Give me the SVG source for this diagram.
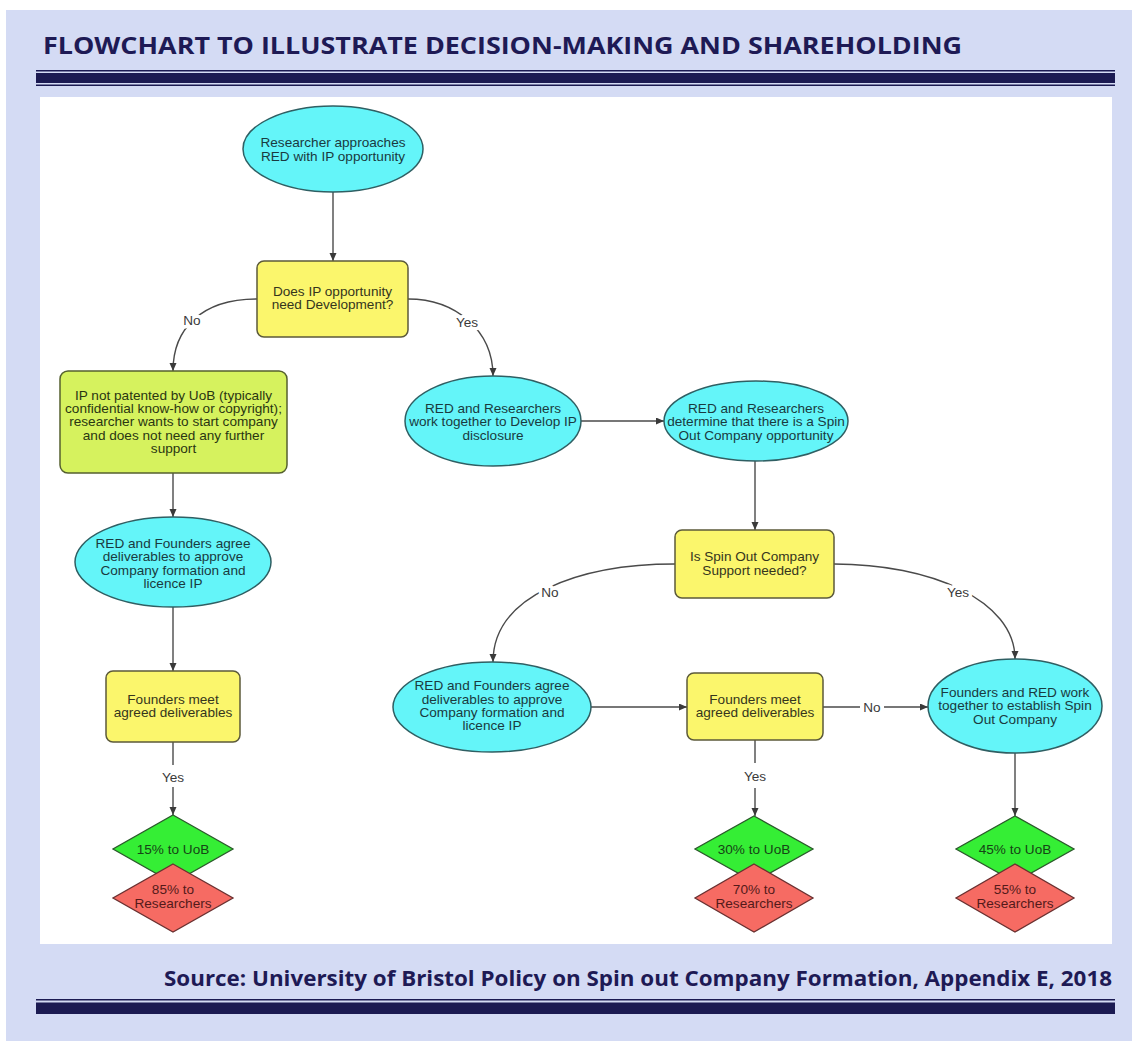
<svg xmlns="http://www.w3.org/2000/svg" width="1132" height="1041" viewBox="0 0 1132 1041">
<style>
.head{font-family:"Open Sans","DejaVu Sans",sans-serif;font-weight:bold;fill:#1e1a55}
.t{font-family:"Liberation Sans",Arial,Helvetica,sans-serif;font-size:13.6px;text-anchor:middle}
.lbl{font-family:"Liberation Sans",Arial,Helvetica,sans-serif;font-size:13.6px;text-anchor:middle;fill:#3a3a3a;stroke:#fff;stroke-width:7px;paint-order:stroke;stroke-linejoin:round}
.cyan{fill:#64f5f9;stroke:#2f5f63;stroke-width:1.5}
.yel{fill:#fbf66c;stroke:#5c5a3a;stroke-width:1.5}
.lime{fill:#d6f25e;stroke:#55602f;stroke-width:1.5}
.grn{fill:#35ee35;stroke:#2a5a2a;stroke-width:1.3}
.red{fill:#f66b63;stroke:#6a3030;stroke-width:1.3}
.tc{fill:#1a3a40}
.ty{fill:#35351c}
.tl{fill:#2a3612}
.tg{fill:#164416}
.tr{fill:#541a1a}
.conn path{fill:none;stroke:#4a4a4a;stroke-width:1.4}
.conn path.a{marker-end:url(#arr)}
</style>
<defs>
<marker id="arr" markerUnits="userSpaceOnUse" markerWidth="9" markerHeight="8" refX="8" refY="3.5" orient="auto">
<path d="M0,0 L8,3.5 L0,7 z" fill="#3a3a3a"/>
</marker>
</defs>
<rect x="0" y="0" width="1132" height="1041" fill="#ffffff"/>
<rect x="6" y="10" width="1126" height="1031" fill="#d4dbf4"/>
<text class="head" x="43" y="54" font-size="23" textLength="919" lengthAdjust="spacingAndGlyphs">FLOWCHART TO ILLUSTRATE DECISION-MAKING AND SHAREHOLDING</text>
<rect x="36" y="70" width="1079" height="1.5" fill="#1b1a52"/>
<rect x="36" y="73" width="1079" height="10" fill="#1b1a52"/>
<rect x="36" y="84.5" width="1079" height="1.5" fill="#1b1a52"/>
<rect x="40" y="97" width="1072" height="847" fill="#ffffff"/>
<text class="head" x="1112" y="986" font-size="22" text-anchor="end" textLength="948" lengthAdjust="spacingAndGlyphs">Source: University of Bristol Policy on Spin out Company Formation, Appendix E, 2018</text>
<rect x="36" y="999" width="1079" height="1.5" fill="#1b1a52"/>
<rect x="36" y="1002.5" width="1079" height="11.5" fill="#1b1a52"/>

<g class="conn" id="connectors">
<path class="a" d="M333,192 L333,261"/>
<path class="a" d="M257,299 C200,299 173,330 173,371"/>
<path class="a" d="M408,299 C455,299 493,330 493,376"/>
<path class="a" d="M173,473 L173,517"/>
<path class="a" d="M173,607 L173,671"/>
<path d="M173,742 L173,765"/>
<path class="a" d="M173,787 L173,815"/>
<path class="a" d="M581,421 L664,421"/>
<path class="a" d="M755,461 L755,530"/>
<path class="a" d="M675,564 C580,564 493,595 493,662"/>
<path class="a" d="M834,564 C930,564 1015,600 1015,659"/>
<path class="a" d="M591,707 L687,707"/>
<path d="M823,707 L860,707"/>
<path class="a" d="M884,707 L928,707"/>
<path d="M755,740 L755,763"/>
<path class="a" d="M755,788 L755,816"/>
<path class="a" d="M1015,753 L1015,816"/>
<text class="lbl" x="192" y="325">No</text>
<text class="lbl" x="467" y="327">Yes</text>
<text class="lbl" x="173" y="781.5">Yes</text>
<text class="lbl" x="550" y="597">No</text>
<text class="lbl" x="958" y="597">Yes</text>
<text class="lbl" x="872" y="711.5">No</text>
<text class="lbl" x="755" y="780.5">Yes</text>
</g>

<g id="n1">
<ellipse class="cyan" cx="333" cy="149" rx="90" ry="43"/>
<text class="t tc" x="333" y="147">Researcher approaches</text>
<text class="t tc" x="333" y="160.5">RED with IP opportunity</text>
</g>
<g id="n2">
<rect class="yel" x="257" y="261" width="151" height="76" rx="7"/>
<text class="t ty" x="332.5" y="296">Does IP opportunity</text>
<text class="t ty" x="332.5" y="309">need Development?</text>
</g>
<g id="n3">
<rect class="lime" x="60" y="371" width="227" height="102" rx="8"/>
<text class="t tl" x="173.5" y="399.5">IP not patented by UoB (typically</text>
<text class="t tl" x="173.5" y="412.9">confidential know-how or copyright);</text>
<text class="t tl" x="173.5" y="426.3">researcher wants to start company</text>
<text class="t tl" x="173.5" y="439.7">and does not need any further</text>
<text class="t tl" x="173.5" y="453.1">support</text>
</g>
<g id="n4">
<ellipse class="cyan" cx="173" cy="562" rx="98" ry="45"/>
<text class="t tc" x="173" y="547.8">RED and Founders agree</text>
<text class="t tc" x="173" y="561.2">deliverables to approve</text>
<text class="t tc" x="173" y="574.6">Company formation and</text>
<text class="t tc" x="173" y="588">licence IP</text>
</g>
<g id="n5">
<rect class="yel" x="106" y="671" width="134" height="71" rx="7"/>
<text class="t ty" x="173" y="703.5">Founders meet</text>
<text class="t ty" x="173" y="717">agreed deliverables</text>
</g>
<g id="d1">
<polygon class="grn" points="173,815 233,849 173,883 113,849"/>
<text class="t tg" x="173" y="853.5">15% to UoB</text>
</g>
<g id="d1r">
<polygon class="red" points="173,864 233,898 173,932 113,898"/>
<text class="t tr" x="173" y="893.5">85% to</text>
<text class="t tr" x="173" y="907.5">Researchers</text>
</g>
<g id="n6">
<ellipse class="cyan" cx="493" cy="421" rx="88" ry="45"/>
<text class="t tc" x="493" y="412.5">RED and Researchers</text>
<text class="t tc" x="493" y="426">work together to Develop IP</text>
<text class="t tc" x="493" y="439.5">disclosure</text>
</g>
<g id="n7">
<ellipse class="cyan" cx="756" cy="421" rx="92" ry="40"/>
<text class="t tc" x="756" y="412.5">RED and Researchers</text>
<text class="t tc" x="756" y="426">determine that there is a Spin</text>
<text class="t tc" x="756" y="439.5">Out Company opportunity</text>
</g>
<g id="n8">
<rect class="yel" x="675" y="530" width="159" height="68" rx="7"/>
<text class="t ty" x="754.5" y="561">Is Spin Out Company</text>
<text class="t ty" x="754.5" y="575">Support needed?</text>
</g>
<g id="n9">
<ellipse class="cyan" cx="492" cy="707" rx="99" ry="45"/>
<text class="t tc" x="492" y="690.2">RED and Founders agree</text>
<text class="t tc" x="492" y="703.5">deliverables to approve</text>
<text class="t tc" x="492" y="716.8">Company formation and</text>
<text class="t tc" x="492" y="730.2">licence IP</text>
</g>
<g id="n10">
<rect class="yel" x="687" y="673" width="136" height="67" rx="7"/>
<text class="t ty" x="755" y="703.5">Founders meet</text>
<text class="t ty" x="755" y="717">agreed deliverables</text>
</g>
<g id="n11">
<ellipse class="cyan" cx="1015" cy="706" rx="87" ry="47"/>
<text class="t tc" x="1015" y="696.5">Founders and RED work</text>
<text class="t tc" x="1015" y="710">together to establish Spin</text>
<text class="t tc" x="1015" y="723.5">Out Company</text>
</g>
<g id="d2">
<polygon class="grn" points="754,816 813,849 754,882 695,849"/>
<text class="t tg" x="754" y="853.5">30% to UoB</text>
</g>
<g id="d2r">
<polygon class="red" points="754,864 813,898 754,932 695,898"/>
<text class="t tr" x="754" y="893.5">70% to</text>
<text class="t tr" x="754" y="907.5">Researchers</text>
</g>
<g id="d3">
<polygon class="grn" points="1015,816 1074,849 1015,882 956,849"/>
<text class="t tg" x="1015" y="853.5">45% to UoB</text>
</g>
<g id="d3r">
<polygon class="red" points="1015,864 1074,898 1015,932 956,898"/>
<text class="t tr" x="1015" y="893.5">55% to</text>
<text class="t tr" x="1015" y="907.5">Researchers</text>
</g>
</svg>
